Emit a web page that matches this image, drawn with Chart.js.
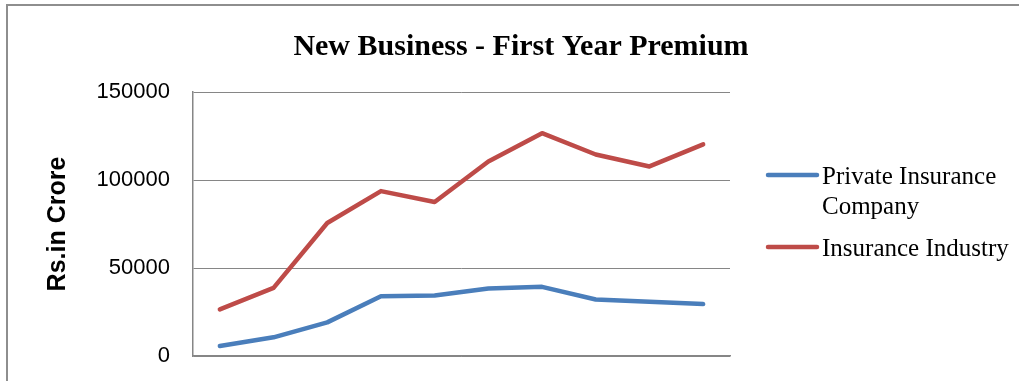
<!DOCTYPE html>
<html>
<head>
<meta charset="utf-8">
<script src="https://cdn.jsdelivr.net/npm/chart.js@4.4.1/dist/chart.umd.min.js"></script>
<style>
  html, body { margin: 0; padding: 0; background: #ffffff; }
  #wrap { position: relative; width: 1019px; height: 381px; }
  canvas { display: block; }
</style>
</head>
<body>
<div id="wrap"><canvas id="c" width="1019" height="381"></canvas></div>
<script>
const chartTitle = 'New Business - First Year Premium';
const yAxisTitle = 'Rs.in Crore';
const categories = ['1', '2', '3', '4', '5', '6', '7', '8', '9', '10'];
const seriesNames = ['Private Insurance Company', 'Insurance Industry'];
const privateCompany = [5700, 10600, 19100, 34000, 34400, 38400, 39300, 32100, 30800, 29500];
const insuranceIndustry = [26500, 38700, 75600, 93700, 87500, 110500, 126600, 114500, 107700, 120200];
const yTicks = [0, 50000, 100000, 150000];
const seriesColors = ['#4A7EBB', '#BE4B48'];

const framePlugin = {
  id: 'frame',
  beforeDraw(chart) {
    const ctx = chart.ctx;
    ctx.save();
    ctx.strokeStyle = '#8e8e8e';
    ctx.lineWidth = 2;
    ctx.beginPath();
    ctx.moveTo(7, 381);
    ctx.lineTo(7, 5);
    ctx.lineTo(1019, 5);
    ctx.stroke();
    ctx.restore();
  }
};

const titlePlugin = {
  id: 'customTitle',
  afterDraw(chart) {
    const ctx = chart.ctx;
    ctx.save();
    ctx.font = 'bold 30px "Liberation Serif", "Times New Roman", serif';
    ctx.fillStyle = '#000000';
    ctx.textAlign = 'center';
    ctx.textBaseline = 'alphabetic';
    ctx.fillText(chartTitle, 521, 55);
    ctx.restore();
  }
};

const legendPlugin = {
  id: 'customLegend',
  afterDraw(chart) {
    const ctx = chart.ctx;
    ctx.save();
    ctx.font = '25px "Liberation Serif", "Times New Roman", serif';
    ctx.textAlign = 'left';
    ctx.textBaseline = 'middle';
    const maxW = 196;
    const lineH = 30;
    let y = 177;
    chart.data.datasets.forEach((ds) => {
      const words = ds.label.split(' ');
      const lines = [];
      let cur = '';
      words.forEach(w => {
        const test = cur ? cur + ' ' + w : w;
        if (ctx.measureText(test).width > maxW && cur) { lines.push(cur); cur = w; }
        else cur = test;
      });
      if (cur) lines.push(cur);
      ctx.strokeStyle = ds.borderColor;
      ctx.lineWidth = 4.5;
      ctx.lineCap = 'round';
      ctx.beginPath();
      ctx.moveTo(768, y - 2);
      ctx.lineTo(817, y - 2);
      ctx.stroke();
      ctx.fillStyle = '#000000';
      lines.forEach((ln, i) => ctx.fillText(ln, 822, y + i * lineH));
      y += lines.length * lineH + 12;
    });
    ctx.restore();
  }
};

new Chart(document.getElementById('c'), {
  type: 'line',
  data: {
    labels: categories,
    datasets: [
      { label: seriesNames[0], data: privateCompany, borderColor: seriesColors[0], backgroundColor: seriesColors[0],
        borderWidth: 4.5, pointRadius: 0, tension: 0, borderCapStyle: 'round', borderJoinStyle: 'round' },
      { label: seriesNames[1], data: insuranceIndustry, borderColor: seriesColors[1], backgroundColor: seriesColors[1],
        borderWidth: 4.5, pointRadius: 0, tension: 0, borderCapStyle: 'round', borderJoinStyle: 'round' }
    ]
  },
  options: {
    responsive: false,
    animation: false,
    devicePixelRatio: 1,
    layout: { padding: { left: 0, top: 92, right: 289, bottom: 25 } },
    plugins: {
      legend: { display: false },
      title: { display: false },
      tooltip: { enabled: false }
    },
    scales: {
      x: {
        type: 'category',
        offset: true,
        ticks: { display: false },
        grid: { display: true, drawOnChartArea: false, drawTicks: false },
        border: { display: true, color: '#868686', width: 1.5 },
        afterFit(scale) { scale.height = 0; }
      },
      y: {
        min: 0,
        max: 150000,
        afterBuildTicks(scale) { scale.ticks = yTicks.map(v => ({ value: v })); },
        ticks: {
          padding: 0,
          color: '#000000',
          font: { family: '"Liberation Sans", Arial, sans-serif', size: 22 },
          callback: (v) => String(v)
        },
        grid: { color: '#868686', lineWidth: 1, drawTicks: true, tickLength: 23, tickColor: 'rgba(0,0,0,0)' },
        border: { display: true, color: '#868686', width: 1.5 },
        title: {
          display: true,
          text: yAxisTitle,
          color: '#000000',
          font: { family: '"Liberation Sans", Arial, sans-serif', size: 25, weight: 'bold' },
          padding: { top: 43, bottom: 0 }
        },
        afterFit(scale) { scale.width = 193; }
      }
    }
  },
  plugins: [framePlugin, titlePlugin, legendPlugin]
});
</script>
</body>
</html>
